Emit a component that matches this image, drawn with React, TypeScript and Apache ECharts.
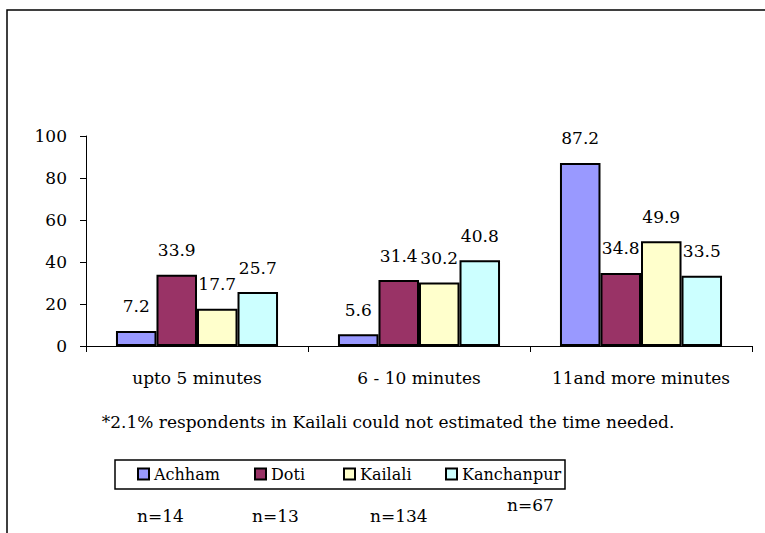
import React, { useEffect, useRef } from "react";
import * as echarts from "echarts";

const categories = ["upto 5 minutes", "6 - 10 minutes", "11and more minutes"];
const achham = [7.2, 5.6, 87.2];
const doti = [33.9, 31.4, 34.8];
const kailali = [17.7, 30.2, 49.9];
const kanchanpur = [25.7, 40.8, 33.5];
const seriesNames = ["Achham", "Doti", "Kailali", "Kanchanpur"];
const seriesColors = ["#9999FF", "#993366", "#FFFFCC", "#CCFFFF"];
const nLabels = ["n=14", "n=13", "n=134", "n=67"];
const footnote = "*2.1% respondents in Kailali could not estimated the time needed.";

const FONT = "DejaVu Serif";
const FS = 17;

export default function App() {
  const ref = useRef<HTMLDivElement>(null);
  useEffect(() => {
    document.body.style.margin = "0";
    const chart = echarts.init(ref.current!, undefined, { renderer: "svg" });
    const data = [achham, doti, kailali, kanchanpur];
    const legendX = [137, 254, 343, 445];
    const nPos = [[137, 516], [252, 516], [370, 516], [507, 505]];
    chart.setOption({
      animation: false,
      backgroundColor: "#ffffff",
      textStyle: { fontFamily: FONT, color: "#000" },
      grid: { left: 86, right: 13, top: 136, bottom: 187, containLabel: false },
      legend: seriesNames.map((name, i) => ({
        data: [name],
        left: legendX[i],
        top: 466,
        padding: 0,
        icon: "rect",
        itemWidth: 11,
        itemHeight: 11,
        itemGap: 5,
        textStyle: { fontFamily: FONT, fontSize: 16, color: "#000", padding: [1, 0, 0, 0] },
        selectedMode: false,
      })),
      xAxis: {
        type: "category",
        data: categories,
        axisLine: { lineStyle: { color: "#000", width: 1 } },
        axisTick: { show: true, length: 6, lineStyle: { color: "#000" } },
        axisLabel: { fontFamily: FONT, fontSize: FS, color: "#000", margin: 23, interval: 0, hideOverlap: false },
      },
      yAxis: {
        type: "value",
        min: 0,
        max: 100,
        interval: 20,
        splitLine: { show: false },
        axisLine: { show: true, lineStyle: { color: "#000", width: 1 } },
        axisTick: { show: true, inside: false, length: 6, lineStyle: { color: "#000" } },
        axisLabel: { fontFamily: FONT, fontSize: FS, color: "#000", margin: 19 },
      },
      series: data.map((d, i) => ({
        name: seriesNames[i],
        type: "bar",
        data: d,
        barGap: "0%",
        barCategoryGap: "27%",
        itemStyle: { color: seriesColors[i], borderColor: "#000", borderWidth: 2 },
        label: {
          show: true,
          position: "top",
          distance: 16,
          fontFamily: FONT,
          fontSize: FS,
          color: "#000",
        },
        labelLayout: { hideOverlap: false },
      })),
      graphic: [
        {
          type: "polyline",
          shape: { points: [[7, 540], [7, 10], [770, 10]] },
          style: { stroke: "#000", lineWidth: 1.5, fill: "none" },
          silent: true,
        },
        {
          type: "rect",
          shape: { x: 115, y: 460, width: 450, height: 29 },
          style: { stroke: "#000", lineWidth: 1.5, fill: "none" },
          silent: true,
          z: -1,
        },
        {
          type: "text",
          x: 388,
          y: 422,
          style: {
            text: footnote,
            fontFamily: FONT,
            fontSize: FS,
            fill: "#000",
            textAlign: "center",
            textVerticalAlign: "middle",
          },
        },
        ...nLabels.map((t, i) => ({
          type: "text",
          x: nPos[i][0],
          y: nPos[i][1],
          style: {
            text: t,
            fontFamily: FONT,
            fontSize: FS,
            fill: "#000",
            textAlign: "left",
            textVerticalAlign: "middle",
          },
        })),
      ],
    });
    return () => chart.dispose();
  }, []);
  return <div ref={ref} style={{ width: 765, height: 533 }} />;
}
